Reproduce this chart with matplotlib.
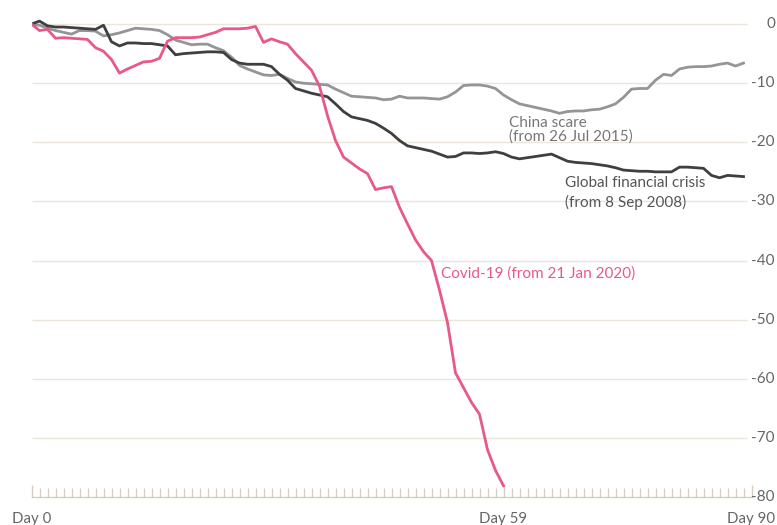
import matplotlib
matplotlib.use("Agg")
import matplotlib.pyplot as plt
from matplotlib.transforms import blended_transform_factory

plt.rcParams['font.family'] = ['Lato', 'DejaVu Sans']

# % change from start, daily
covid = [0, -1.1, -0.9, -2.4, -2.3, -2.4, -2.5, -2.6, -4.0, -4.6,
         -6.0, -8.3, -7.6, -7.0, -6.4, -6.3, -5.8, -2.9, -2.3, -2.3,
         -2.3, -2.2, -1.8, -1.4, -0.8, -0.8, -0.8, -0.7, -0.4, -3.1,
         -2.5, -3.0, -3.4, -5.0, -6.4, -7.8, -10.5, -15.5, -19.7, -22.5,
         -23.5, -24.5, -25.3, -28.0, -27.7, -27.5, -31.0, -33.8, -36.5, -38.5,
         -40.0, -45.0, -50.5, -59.0, -61.5, -64.0, -66.0, -72.0, -75.5, -78.1]

gfc = [0, 0.5, -0.3, -0.5, -0.5, -0.6, -0.7, -0.8, -0.9, -0.2,
       -3.0, -3.7, -3.2, -3.2, -3.3, -3.3, -3.5, -3.7, -5.2, -5.0,
       -4.9, -4.8, -4.7, -4.7, -4.8, -6.0, -6.6, -6.8, -6.8, -6.8,
       -7.2, -8.5, -9.5, -10.9, -11.3, -11.7, -12.0, -12.3, -13.5, -14.8,
       -15.7, -16.0, -16.3, -16.8, -17.6, -18.5, -19.7, -20.6, -20.9, -21.2,
       -21.5, -22.0, -22.5, -22.4, -21.8, -21.8, -21.9, -21.8, -21.6, -21.9,
       -22.5, -22.8, -22.6, -22.4, -22.2, -22.0, -22.6, -23.2, -23.4, -23.5,
       -23.6, -23.8, -24.0, -24.3, -24.7, -24.8, -24.9, -24.9, -25.0, -25.0,
       -25.0, -24.2, -24.2, -24.3, -24.4, -25.6, -26.0, -25.6, -25.7, -25.8]

china = [0, -0.2, -0.7, -1.1, -1.4, -1.7, -1.1, -1.1, -1.2, -2.0,
         -1.8, -1.5, -1.1, -0.7, -0.8, -0.9, -1.1, -1.8, -2.7, -3.1,
         -3.5, -3.4, -3.4, -4.0, -4.5, -5.6, -7.0, -7.6, -8.1, -8.6,
         -8.7, -8.5, -9.2, -9.8, -10.0, -10.1, -10.2, -10.3, -11.0, -11.6,
         -12.2, -12.3, -12.4, -12.5, -12.8, -12.7, -12.2, -12.5, -12.5, -12.5,
         -12.6, -12.7, -12.3, -11.5, -10.4, -10.3, -10.3, -10.5, -10.9, -12.0,
         -12.8, -13.5, -13.8, -14.1, -14.4, -14.7, -15.1, -14.8, -14.7, -14.7,
         -14.5, -14.4, -14.0, -13.5, -12.4, -11.0, -10.9, -10.9, -9.5, -8.5,
         -8.7, -7.6, -7.3, -7.2, -7.2, -7.1, -6.8, -6.6, -7.1, -6.6]

y_ticks = [0, -10, -20, -30, -40, -50, -60, -70, -80]
x_ticks = [0, 59, 90]
x_labels = ["Day 0", "Day 59", "Day 90"]

PINK = "#e8588a"
DARK = "#3f3f3f"
LIGHT = "#959595"
GRID = "#ece5db"
AXIS = "#d6ccbf"
TEXT = "#666666"

fig = plt.figure(figsize=(7.77, 5.25), dpi=100)
ax = fig.add_axes([31.5 / 777, 28 / 525, 720 / 777, 497 / 525])
ax.set_xlim(0, 90)
ax.set_ylim(-80, 4.07)

# gridlines stop a little short of the right edge
ax.hlines(y_ticks[:-1], 0, 89.4, color=GRID, lw=1, zorder=0)

ax.plot(range(len(china)), china, color=LIGHT, lw=2, zorder=2)
ax.plot(range(len(gfc)), gfc, color=DARK, lw=2, zorder=3)
ax.plot(range(len(covid)), covid, color=PINK, lw=2, zorder=4)

for s in ["top", "right", "left"]:
    ax.spines[s].set_visible(False)
ax.spines["bottom"].set_color(AXIS)
ax.spines["bottom"].set_linewidth(1)

ax.set_xticks(x_ticks)
ax.set_xticklabels(x_labels)
ax.set_xticks(range(0, 91), minor=True)
ax.tick_params(axis="x", which="major", direction="in", length=9, width=1,
               color=AXIS, labelsize=10.8, labelcolor=TEXT, pad=11)
ax.tick_params(axis="x", which="minor", direction="in", length=6.5, width=0.9,
               color=AXIS)

# y labels, right-aligned against the figure edge
ax.set_yticks([])
trans = blended_transform_factory(fig.transFigure, ax.transData)
for v in y_ticks:
    ax.text(775 / 777, v, str(v), transform=trans, ha="right", va="center",
            fontsize=11, color=TEXT, clip_on=False)

ax.text(59.7, -20.3, "China scare\n(from 26 Jul 2015)", color="#777777",
        fontsize=11, linespacing=1.0, va="bottom")
ax.text(66.7, -31.4, "Global financial crisis\n(from 8 Sep 2008)", color="#555555",
        fontsize=11, linespacing=1.35, va="bottom")
ax.text(51.2, -43.4, "Covid-19 (from 21 Jan 2020)", color=PINK, fontsize=11,
        va="bottom")

fig.savefig("out.png", dpi=100)
